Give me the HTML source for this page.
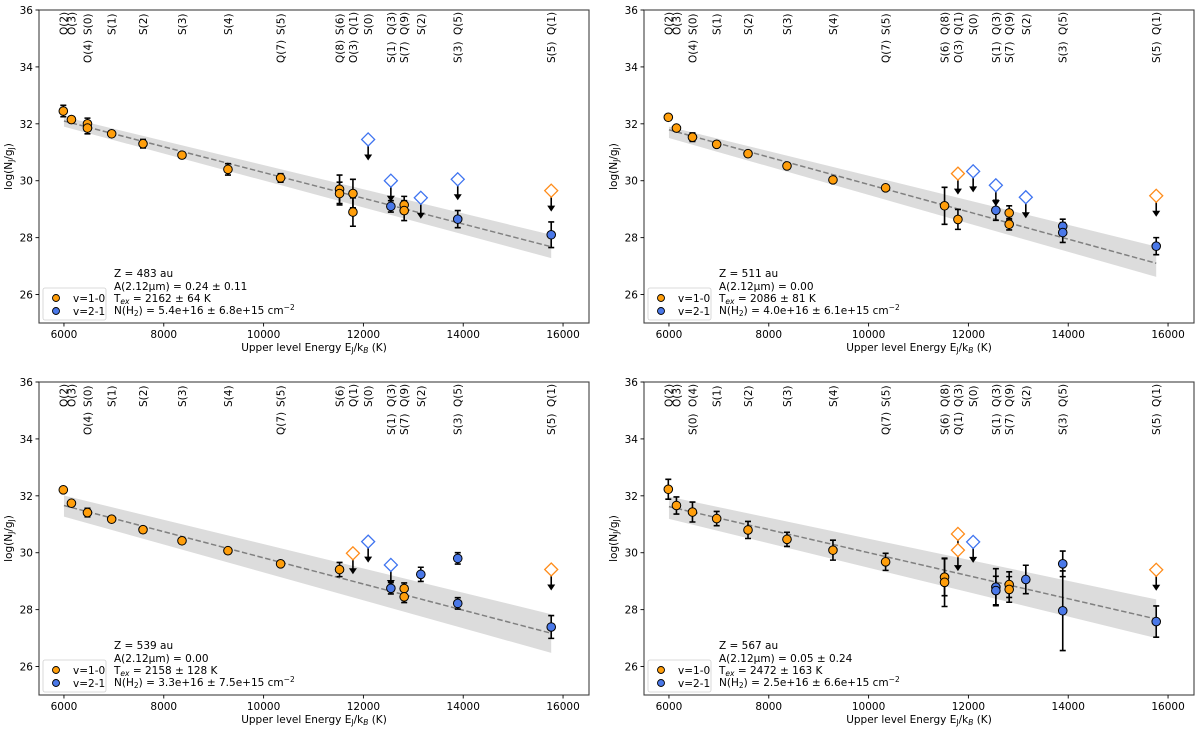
<!DOCTYPE html>
<html><head><meta charset="utf-8"><style>
html,body{margin:0;padding:0;background:#fff}
svg{display:block;font-family:"DejaVu Sans","Liberation Sans",sans-serif}
</style></head><body>
<svg id="fig" width="1200" height="731" viewBox="0 0 1200 731" xmlns="http://www.w3.org/2000/svg"></svg>
<script>
// ---------- Line energy labels ----------
const lineE = [5987,6150,6471,6956,7584,8365,9286,10341,11522,11790,12095,12550,12817,13150,13890,15763];
const topA = ["Q(2)","O(3)","S(0)","S(1)","S(2)","S(3)","S(4)","S(5)","S(6)","Q(1)","S(0)","Q(3)","Q(9)","S(2)","Q(5)","Q(1)"];
const botA = ["","","O(4)","","","","","Q(7)","Q(8)","O(3)","","S(1)","S(7)","","S(3)","S(5)"];
const topB = ["Q(2)","O(3)","S(0)","S(1)","S(2)","S(3)","S(4)","S(5)","Q(8)","Q(1)","S(0)","Q(3)","Q(9)","S(2)","Q(5)","Q(1)"];
const botB = ["","","O(4)","","","","","Q(7)","S(6)","O(3)","","S(1)","S(7)","","S(3)","S(5)"];
const topC = ["Q(2)","O(3)","S(0)","S(1)","S(2)","S(3)","S(4)","S(5)","S(6)","Q(1)","S(0)","Q(3)","Q(9)","S(2)","Q(5)","Q(1)"];
const botC = ["","","O(4)","","","","","Q(7)","","","","S(1)","S(7)","","S(3)","S(5)"];
const topD = ["Q(2)","O(3)","O(4)","S(1)","S(2)","S(3)","S(4)","S(5)","Q(8)","Q(3)","S(0)","Q(3)","Q(9)","S(2)","Q(5)","Q(1)"];
const botD = ["","","S(0)","","","","","Q(7)","S(6)","Q(1)","","S(1)","S(7)","","S(3)","S(5)"];
const xTicks = [6000,8000,10000,12000,14000,16000];
const yTicks = [26,28,30,32,34,36];

// ---------- Panel 1 (Z=483) ----------
const p1E10 = [5987,6150,6471,6471,6956,7584,8365,9286,10341,11522,11522,11790,11790,12817,12817];
const p1N10 = [32.45,32.15,32.0,31.85,31.65,31.3,30.9,30.4,30.1,29.7,29.55,29.55,28.9,29.15,28.95];
const p1S10 = [0.2,0.1,0.2,0.2,0.1,0.15,0.1,0.2,0.15,0.5,0.4,0.5,0.5,0.3,0.35];
const p1E21 = [12550,13890,15763];
const p1N21 = [29.1,28.65,28.1];
const p1S21 = [0.2,0.3,0.45];
const p1LimE = [12095,12550,13150,13890,15763];
const p1LimN = [31.45,30.0,29.4,30.05,29.65];
const p1LimV = ["2-1","2-1","2-1","2-1","1-0"];
const p1Fit = [32.1,27.68];
const p1BandHi = [32.25,28.1];
const p1BandLo = [31.9,27.28];

// ---------- Panel 2 (Z=511) ----------
const p2E10 = [5987,6150,6471,6956,7584,8365,9286,10341,11522,11790,12817,12817];
const p2N10 = [32.23,31.85,31.53,31.28,30.95,30.52,30.03,29.75,29.12,28.64,28.87,28.47];
const p2S10 = [0.05,0.05,0.15,0.05,0.05,0.05,0.05,0.05,0.65,0.35,0.25,0.2];
const p2E21 = [12550,13890,13890,15763];
const p2N21 = [28.96,28.4,28.18,27.7];
const p2S21 = [0.35,0.25,0.35,0.3];
const p2LimE = [11790,12095,12550,13150,15763];
const p2LimN = [30.25,30.33,29.84,29.42,29.47];
const p2LimV = ["1-0","2-1","2-1","2-1","1-0"];
const p2Fit = [31.79,27.1];
const p2BandHi = [31.9,27.69];
const p2BandLo = [31.5,26.62];

// ---------- Panel 3 (Z=539) ----------
const p3E10 = [5987,6150,6471,6956,7584,8365,9286,10341,11522,12817,12817];
const p3N10 = [32.21,31.74,31.41,31.18,30.81,30.42,30.07,29.61,29.41,28.74,28.45];
const p3S10 = [0.1,0.05,0.15,0.05,0.05,0.05,0.05,0.05,0.25,0.2,0.2];
const p3E21 = [12550,13150,13890,13890,15763];
const p3N21 = [28.75,29.24,29.8,28.22,27.39];
const p3S21 = [0.2,0.25,0.2,0.2,0.4];
const p3LimE = [11790,12095,12550,15763];
const p3LimN = [29.98,30.39,29.57,29.41];
const p3LimV = ["1-0","2-1","2-1","1-0"];
const p3Fit = [31.66,27.17];
const p3BandHi = [32.01,27.84];
const p3BandLo = [31.27,26.48];

// ---------- Panel 4 (Z=567) ----------
const p4E10 = [5987,6150,6471,6956,7584,8365,9286,10341,11522,11522,12817,12817];
const p4N10 = [32.23,31.66,31.43,31.2,30.8,30.47,30.09,29.68,29.14,28.96,28.88,28.71];
const p4S10 = [0.35,0.3,0.35,0.25,0.3,0.25,0.35,0.3,0.65,0.85,0.45,0.45];
const p4E21 = [12550,12550,13150,13890,13890,15763];
const p4N21 = [28.79,28.67,29.06,29.61,27.96,27.58];
const p4S21 = [0.65,0.5,0.5,0.45,1.4,0.55];
const p4LimE = [11790,11790,12095,15763];
const p4LimN = [30.66,30.09,30.38,29.4];
const p4LimV = ["1-0","1-0","2-1","1-0"];
const p4Fit = [31.62,27.67];
const p4BandHi = [31.97,28.36];
const p4BandLo = [31.19,27.0];

const fitE = [6000,15763];

const NS = "http://www.w3.org/2000/svg";
const svg = document.getElementById('fig');
function mk(tag, parent, attrs){
  const e = document.createElementNS(NS, tag);
  for (const k in attrs) e.setAttribute(k, attrs[k]);
  parent.appendChild(e); return e;
}
const ORANGE = "#ff9e0b", BLUE = "#4a78e8", ORL = "#ff8c1a", BLL = "#3f74f0";

function panel(cfg){
  const L = cfg.x, T = cfg.y, W = 550, H = 313;
  const sx = v => L + (v - 5500) / (16520 - 5500) * W;
  const sy = v => T + (36 - v) / 11 * H;
  const g = mk('g', svg, {});
  
  

  // band
  const band = mk('polygon', g, {points:
    `${sx(fitE[0])},${sy(cfg.bandHi[0])} ${sx(fitE[1])},${sy(cfg.bandHi[1])} ${sx(fitE[1])},${sy(cfg.bandLo[1])} ${sx(fitE[0])},${sy(cfg.bandLo[0])}`,
    fill:'#dcdcdc'});
  
  
  const fl = mk('line', g, {x1:sx(fitE[0]), y1:sy(cfg.fit[0]), x2:sx(fitE[1]), y2:sy(cfg.fit[1]), stroke:'#808080', 'stroke-width':1.5, 'stroke-dasharray':'5.5,2.5'});
  
  

  // line labels
  lineE.forEach((e,i)=>{
    [[cfg.top[i], T+25],[cfg.bot[i], T+53]].forEach(([t,yb])=>{
      if(!t) return;
      const x = sx(e) + 4;
      const tx = mk('text', g, {x:x, y:yb, transform:`rotate(-90 ${x} ${yb})`, 'font-size':10.5, fill:'#000'});
      tx.textContent = t;
      
      
    });
  });

  // limits
  cfg.limE.forEach((e,i)=>{
    const x = sx(e), y = sy(cfg.limN[i]);
    const a = mk('line', g, {x1:x, y1:y+6, x2:x, y2:y+17, stroke:'#000', 'stroke-width':1.6});
    
    
    const h = mk('polygon', g, {points:`${x-4},${y+15} ${x+4},${y+15} ${x},${y+21}`, fill:'#000'});
    
    
    const d = mk('polygon', g, {points:`${x},${y-6.5} ${x+6.5},${y} ${x},${y+6.5} ${x-6.5},${y}`, fill:'#fff', stroke: cfg.limV[i]==="1-0"?ORL:BLL, 'stroke-width':1.3});
    
    
  });

  function pts(E,N,S,col,nm){
    E.forEach((e,i)=>{
      const x = sx(e), y = sy(N[i]), y1 = sy(N[i]+S[i]), y2 = sy(N[i]-S[i]);
      const eb = mk('path', g, {d:`M${x},${y1}V${y2}M${x-3},${y1}H${x+3}M${x-3},${y2}H${x+3}`, stroke:'#000', 'stroke-width':1.6, fill:'none'});
      
      
    });
    E.forEach((e,i)=>{
      const c = mk('circle', g, {cx:sx(e), cy:sy(N[i]), r:4.3, fill:col, stroke:'#000', 'stroke-width':1});
      
      
    });
  }
  pts(cfg.E10, cfg.N10, cfg.S10, ORANGE, 'point-v1-0');
  pts(cfg.E21, cfg.N21, cfg.S21, BLUE, 'point-v2-1');

  // frame
  const fr = mk('rect', g, {x:L, y:T, width:W, height:H, fill:'none', stroke:'#404040', 'stroke-width':1.1});
  
  

  xTicks.forEach(v=>{
    const x = sx(v);
    mk('line', g, {x1:x, y1:T+H, x2:x, y2:T+H+3.5, stroke:'#000', 'stroke-width':0.9});
    const t = mk('text', g, {x:x, y:T+H+15, 'text-anchor':'middle', 'font-size':10.5});
    t.textContent = v;
    
    
  });
  yTicks.forEach(v=>{
    const y = sy(v);
    mk('line', g, {x1:L-3.5, y1:y, x2:L, y2:y, stroke:'#000', 'stroke-width':0.9});
    const t = mk('text', g, {x:L-6, y:y+4, 'text-anchor':'end', 'font-size':10.5});
    t.textContent = v;
    
    
  });

  // axis titles
  const xl = mk('text', g, {x:L+W/2, y:T+H+28, 'text-anchor':'middle', 'font-size':10.5});
  xl.innerHTML = 'Upper level Energy E<tspan font-size="7.5" dy="2">J</tspan><tspan dy="-2">/k</tspan><tspan font-size="7.5" dy="2" font-style="italic">B</tspan><tspan dy="-2"> (K)</tspan>';
  
  
  const yx = L-27, yy = T+H/2;
  const yl = mk('text', g, {x:yx, y:yy, 'text-anchor':'middle', 'font-size':10.5, transform:`rotate(-90 ${yx} ${yy})`});
  yl.innerHTML = 'log(N<tspan font-size="7.5" dy="2">J</tspan><tspan dy="-2">/g</tspan><tspan font-size="7.5" dy="2">J</tspan><tspan dy="-2">)</tspan>';
  
  

  // annotation
  const ax = L + 75;
  const lines = [
    [T+267, cfg.z],
    [T+280, cfg.a],
    [T+292, 'T<tspan font-size="7.5" dy="2" font-style="italic">ex</tspan><tspan dy="-2"> = '+cfg.t+'</tspan>'],
    [T+304, 'N(H<tspan font-size="7.5" dy="2">2</tspan><tspan dy="-2">) = '+cfg.n+' cm</tspan><tspan font-size="7.5" dy="-4">−2</tspan>']
  ];
  lines.forEach(([y,h])=>{
    const t = mk('text', g, {x:ax, y:y, 'font-size':10.5});
    t.innerHTML = h;
    
    
  });

  // legend
  const lg = mk('g', g, {});
  
  
  mk('rect', lg, {x:L+4, y:T+278, width:63, height:32, rx:2, fill:'#fff', stroke:'#d0d0d0', 'stroke-width':0.8});
  [[ORANGE,'v=1-0',T+288],[BLUE,'v=2-1',T+301]].forEach(([c,t,y])=>{
    mk('circle', lg, {cx:L+17, cy:y, r:3.5, fill:c, stroke:'#000', 'stroke-width':0.9});
    const tx = mk('text', lg, {x:L+34, y:y+4, 'font-size':10.5});
    tx.textContent = t;
    
    
  });
}

panel({name:'panel-z483', x:39, y:10, top:topA, bot:botA, E10:p1E10, N10:p1N10, S10:p1S10, E21:p1E21, N21:p1N21, S21:p1S21, limE:p1LimE, limN:p1LimN, limV:p1LimV, fit:p1Fit, bandHi:p1BandHi, bandLo:p1BandLo,
  z:'Z = 483 au', a:'A(2.12μm) = 0.24 ± 0.11', t:'2162 ± 64 K', n:'5.4e+16 ± 6.8e+15'});
panel({name:'panel-z511', x:644, y:10, top:topB, bot:botB, E10:p2E10, N10:p2N10, S10:p2S10, E21:p2E21, N21:p2N21, S21:p2S21, limE:p2LimE, limN:p2LimN, limV:p2LimV, fit:p2Fit, bandHi:p2BandHi, bandLo:p2BandLo,
  z:'Z = 511 au', a:'A(2.12μm) = 0.00', t:'2086 ± 81 K', n:'4.0e+16 ± 6.1e+15'});
panel({name:'panel-z539', x:39, y:382, top:topC, bot:botC, E10:p3E10, N10:p3N10, S10:p3S10, E21:p3E21, N21:p3N21, S21:p3S21, limE:p3LimE, limN:p3LimN, limV:p3LimV, fit:p3Fit, bandHi:p3BandHi, bandLo:p3BandLo,
  z:'Z = 539 au', a:'A(2.12μm) = 0.00', t:'2158 ± 128 K', n:'3.3e+16 ± 7.5e+15'});
panel({name:'panel-z567', x:644, y:382, top:topD, bot:botD, E10:p4E10, N10:p4N10, S10:p4S10, E21:p4E21, N21:p4N21, S21:p4S21, limE:p4LimE, limN:p4LimN, limV:p4LimV, fit:p4Fit, bandHi:p4BandHi, bandLo:p4BandLo,
  z:'Z = 567 au', a:'A(2.12μm) = 0.05 ± 0.24', t:'2472 ± 163 K', n:'2.5e+16 ± 6.6e+15'});
</script>
</body></html>
